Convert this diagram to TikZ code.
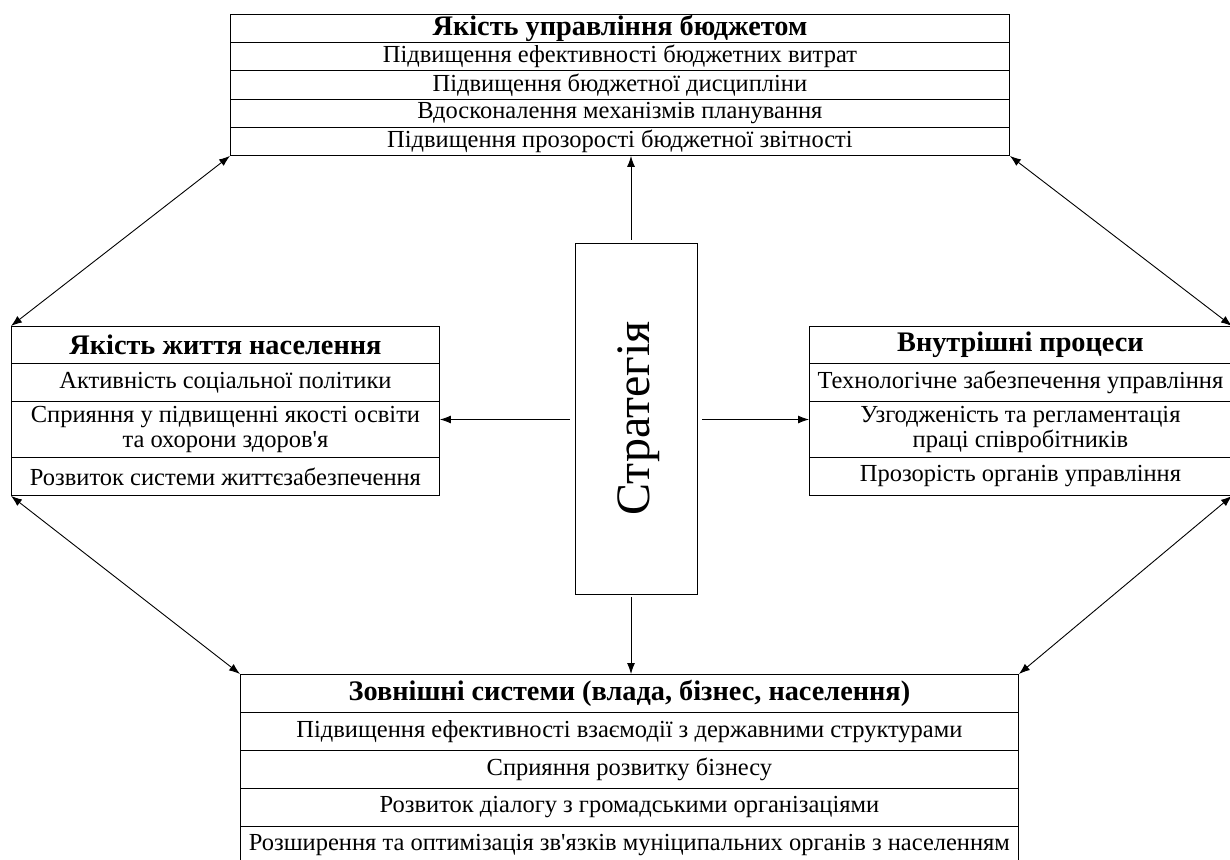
\documentclass[tikz,border=0pt]{standalone}
\usepackage{fontspec}
\setmainfont{Liberation Serif}
\newfontfamily\apf{Liberation Serif}
\usetikzlibrary{arrows.meta}
\newcommand\apo{{\apf '}}
\tikzset{
  cell/.style={draw, line width=0.9pt, anchor=north west, inner sep=0pt, align=center,
               font=\fontsize{24.5}{25.5}\selectfont},
  ttl/.style={font=\fontsize{28.3}{29}\selectfont\bfseries},
  tb/.style={cell, minimum width=779pt, minimum height=28.2pt},
  lb/.style={cell, minimum width=428pt},
  rb/.style={cell, minimum width=422pt},
  bb/.style={cell, minimum width=778pt, minimum height=38pt},
  arr/.style={-{Latex[length=11pt,width=8pt]}, line width=0.9pt},
  darr/.style={{Latex[length=11pt,width=8pt]}-{Latex[length=11pt,width=8pt]}, line width=0.9pt},
}
\begin{document}
\begin{tikzpicture}[x=1pt,y=-1pt]
\useasboundingbox (0,0) rectangle (1230,859);
% top box
\node[tb, ttl] (t0) at (230,14) {Якість управління бюджетом};
\node[tb] (t1) at (230,42.2) {Підвищення ефективності бюджетних витрат};
\node[tb] (t2) at (230,70.4) {Підвищення бюджетної дисципліни};
\node[tb] (t3) at (230,98.6) {Вдосконалення механізмів планування};
\node[tb] (t4) at (230,126.8) {Підвищення прозорості бюджетної звітності};
% left box
\node[lb, ttl, minimum height=37pt] (l0) at (11,326) {Якість життя населення};
\node[lb, minimum height=38pt] (l1) at (11,363) {Активність соціальної політики};
\node[lb, minimum height=56pt] (l2) at (11,401) {Сприяння у підвищенні якості освіти\\та охорони здоров\apo я};
\node[lb, minimum height=38pt] (l3) at (11,457) {Розвиток системи життєзабезпечення};
% right box
\node[rb, ttl, minimum height=37pt] (r0) at (809,326) {Внутрішні процеси};
\node[rb, minimum height=38pt] (r1) at (809,363) {Технологічне забезпечення управління};
\node[rb, minimum height=56pt] (r2) at (809,401) {Узгодженість та регламентація\\праці співробітників};
\node[rb, minimum height=38pt] (r3) at (809,457) {Прозорість органів управління};
% bottom box
\node[bb, ttl] (b0) at (240,674) {Зовнішні системи (влада, бізнес, населення)};
\node[bb] (b1) at (240,712) {Підвищення ефективності взаємодії з державними структурами};
\node[bb] (b2) at (240,750) {Сприяння розвитку бізнесу};
\node[bb] (b3) at (240,788) {Розвиток діалогу з громадськими організаціями};
\node[bb] (b4) at (240,826) {Розширення та оптимізація зв\apo язків муніципальних органів з населенням};
% strategy
\node[draw, line width=0.9pt, minimum width=122pt, minimum height=351pt, inner sep=0pt,
      font=\fontsize{48}{50}\selectfont] (s) at (636,418.5) {\hspace*{6pt}\rotatebox{90}{Стратегія}};
\coordinate (sn) at ([xshift=-5pt,yshift=3pt]s.north);
\coordinate (ss) at ([xshift=-5pt,yshift=-3pt]s.south);
\coordinate (sw) at ([xshift=-5pt,yshift=-1pt]s.west);
\coordinate (se) at ([xshift=5pt,yshift=-1pt]s.east);
\draw[arr] (sn) -- (sn |- t4.south);
\draw[arr] (ss) -- (ss |- b0.north);
\draw[arr] (sw) -- (sw -| l2.east);
\draw[arr] (se) -- (se -| r2.west);
\draw[darr] (t4.south west) -- (l0.north west);
\draw[darr] (t4.south east) -- (r0.north east);
\draw[darr] (l3.south west) -- (b0.north west);
\draw[darr] (r3.south east) -- (b0.north east);
\end{tikzpicture}
\end{document}
